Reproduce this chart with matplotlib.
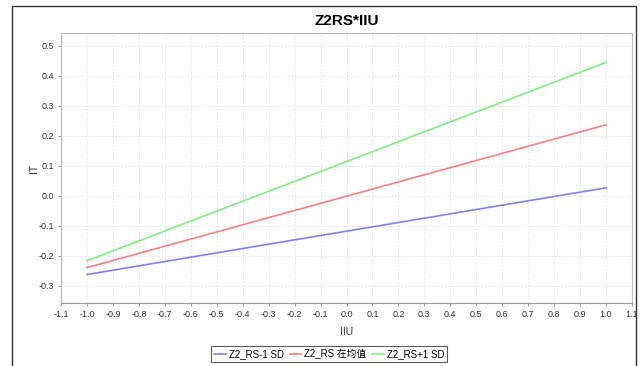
import matplotlib
matplotlib.use('Agg')
import matplotlib.pyplot as plt
from matplotlib.patches import Rectangle

plt.rcParams['font.family'] = ['Liberation Sans', 'Noto Sans CJK SC', 'DejaVu Sans']
plt.rcParams['axes.unicode_minus'] = False

# 数据
x_vals = [-1.0, 1.0]
low_sd = [-0.262, 0.027]
mean_v = [-0.239, 0.237]
high_sd = [-0.216, 0.445]
names = ['Z2_RS-1 SD', 'Z2_RS 在均值', 'Z2_RS+1 SD']
colors = ['#8080ff', '#ff8080', '#80f080']
x_ticks = [round(-1.1 + 0.1 * i, 1) for i in range(23)]
y_ticks = [-0.3, -0.2, -0.1, 0.0, 0.1, 0.2, 0.3, 0.4, 0.5]

fig = plt.figure(figsize=(6.43, 3.66), dpi=100)
ax = fig.add_axes([0.0949, 0.172, 0.888, 0.738])

for ys, c, n in zip([low_sd, mean_v, high_sd], colors, names):
    ax.plot(x_vals, ys, color=c, lw=1.2, label=n)

ax.set_xlim(-1.1, 1.1)
ax.set_ylim(-0.357, 0.543)
ax.set_xticks(x_ticks)
ax.set_xticklabels(['%.1f' % t for t in x_ticks])
ax.set_yticks(y_ticks)
ax.set_yticklabels(['%.1f' % t for t in y_ticks])
ax.tick_params(labelsize=6.5, length=2, width=0.6, color='#888888', pad=3,
               labelcolor='#333333')
ax.grid(True, ls=(0, (2, 2)), color='#dddddd', lw=0.6)
for s in ax.spines.values():
    s.set_color('#bbbbbb')
    s.set_linewidth(0.8)
ax.spines['bottom'].set_color('#999999')

ax.set_xlabel('IIU', fontsize=7.5, labelpad=6, color='#333333')
ax.set_ylabel('IT', fontsize=7.5, labelpad=0, color='#333333')
ax.set_title('Z2RS*IIU', fontsize=11, fontweight='bold', pad=6)

leg = fig.legend(loc='center', bbox_to_anchor=(0.512, 0.032), ncol=3,
                 fontsize=7, frameon=True, fancybox=False, handlelength=1.2,
                 handletextpad=0.3, columnspacing=0.6, borderpad=0.3)
leg.get_frame().set_edgecolor('#333333')
leg.get_frame().set_linewidth(0.8)

# 外框
fig.patches.append(Rectangle((12 / 643, -0.05), 624 / 643, 1.05 - 6 / 366,
                             transform=fig.transFigure, fill=False,
                             edgecolor='#333333', lw=1.0))

fig.savefig('out.png', dpi=100)
